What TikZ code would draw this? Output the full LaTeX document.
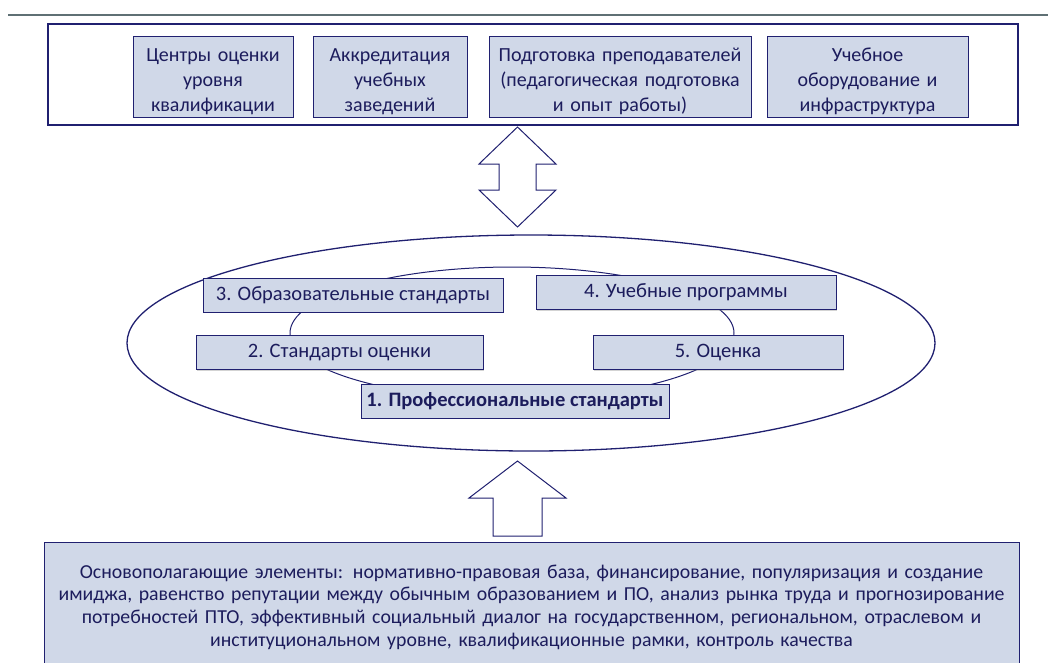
\documentclass[tikz,border=0pt]{standalone}
\usepackage{fontspec}
\setmainfont{Carlito}
\usetikzlibrary{shadows}
\definecolor{navy}{RGB}{32,32,112}
\definecolor{navytext}{RGB}{28,28,92}
\definecolor{boxfill}{RGB}{208,216,232}
\definecolor{rulegray}{RGB}{95,112,116}
\tikzset{x=1pt,y=-1pt,
  frame/.style={draw=navy,line width=1.3pt},
  item/.style={draw=navy,fill=boxfill,line width=1pt,text=navytext,align=center,inner sep=0pt,
    drop shadow={shadow xshift=1pt,shadow yshift=-1pt,opacity=.35},font=\fontsize{20}{25}\selectfont},
  topitem/.style={item,minimum height=81pt,execute at begin node=\rule{0pt}{24pt}},
  level/.style={item,minimum height=34pt,font=\fontsize{20.5}{22}\selectfont},
  blockarrow/.style={draw=navy,line width=1pt,fill=white,line join=miter}}

\begin{document}
\begin{tikzpicture}
  \useasboundingbox (0,0) rectangle (1048,662);
  \draw[rulegray,line width=2.5pt] (8,15) -- (1048,15);

  \node[frame,minimum width=970pt,minimum height=101pt] (top) at (533,74.5) {};
  \node[topitem,minimum width=160pt,text width=160pt] (centers) at (213,76.5) {Центры оценки\\уровня\\квалификации};
  \node[topitem,minimum width=154pt,text width=154pt] (accr) at (390,76.5) {Аккредитация\\учебных\\заведений};
  \node[topitem,minimum width=262pt,text width=262pt] (teach) at (620,76.5) {Подготовка преподавателей\\(педагогическая подготовка\\и опыт работы)};
  \node[topitem,minimum width=201pt,text width=201pt] (equip) at (867.5,76.5) {Учебное\\оборудование и\\инфраструктура};

  \draw[blockarrow] (517.5,127) -- (556,164) -- (536,164) -- (536,190) -- (556,190) -- (517.5,227)
    -- (479,190) -- (499,190) -- (499,164) -- (479,164) -- cycle;

  \draw[frame] (531,343) ellipse [x radius=404, y radius=108];
  \draw[draw=navy,line width=1pt] (512,333) ellipse [x radius=222, y radius=66];

  \node[level,minimum width=300pt] (edu) at (353,295) {3. Образовательные стандарты};
  \node[level,minimum width=300pt] (prog) at (686,292.5) {4. Учебные программы};
  \node[level,minimum width=287pt] (asst) at (339.5,352.5) {2. Стандарты оценки};
  \node[level,minimum width=250pt] (eval) at (718,352.5) {5. Оценка};
  \node[level,minimum width=308pt,font=\fontsize{20.5}{22}\selectfont\bfseries] (prof) at (515,401) {1. Профессиональные стандарты};

  \draw[blockarrow] (517.5,461) -- (566,498) -- (542,498) -- (542,536) -- (493,536) -- (493,498)
    -- (469,498) -- cycle;

  \node[item,minimum width=975pt,minimum height=130pt,text width=970pt,
    font=\fontsize{19.8}{22.7}\selectfont] (base) at (531.5,607) {Основополагающие элементы: нормативно-правовая база, финансирование, популяризация и создание\\имиджа, равенство репутации между обычным образованием и ПО, анализ рынка труда и прогнозирование\\потребностей ПТО, эффективный социальный диалог на государственном, региональном, отраслевом и\\институциональном уровне, квалификационные рамки, контроль качества};
\end{tikzpicture}
\end{document}
